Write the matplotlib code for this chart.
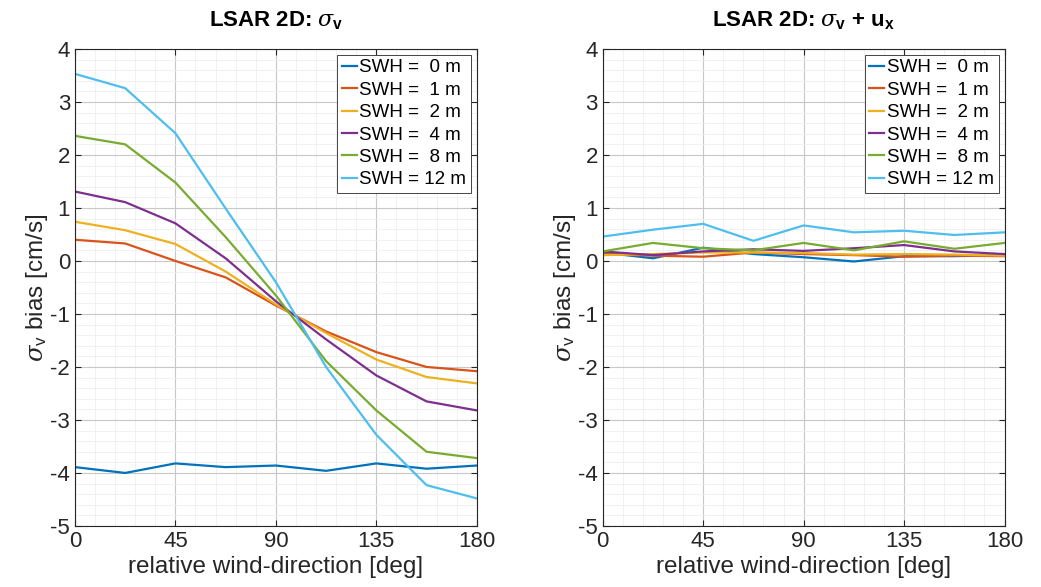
import matplotlib
matplotlib.use("Agg")
import matplotlib.pyplot as plt
from matplotlib.ticker import MultipleLocator

plt.rcParams['font.family'] = ['Liberation Sans', 'DejaVu Sans']
plt.rcParams['mathtext.fontset'] = 'custom'
plt.rcParams['mathtext.rm'] = 'Liberation Sans'
plt.rcParams['mathtext.bf'] = 'Liberation Sans:bold'
plt.rcParams['mathtext.it'] = 'DejaVu Serif:italic'
plt.rcParams['axes.unicode_minus'] = False

# relative wind direction [deg]
wind_dir = [0, 22.5, 45, 67.5, 90, 112.5, 135, 157.5, 180]
swh_labels = ["SWH =  0 m", "SWH =  1 m", "SWH =  2 m",
              "SWH =  4 m", "SWH =  8 m", "SWH = 12 m"]

# left panel: sigma_v bias
bias_v_0 = [-3.89, -4.00, -3.82, -3.89, -3.86, -3.96, -3.82, -3.92, -3.86]
bias_v_1 = [0.40, 0.33, 0.00, -0.31, -0.84, -1.33, -1.72, -2.00, -2.08]
bias_v_2 = [0.74, 0.58, 0.32, -0.20, -0.82, -1.36, -1.86, -2.19, -2.31]
bias_v_4 = [1.31, 1.11, 0.71, 0.05, -0.76, -1.48, -2.16, -2.65, -2.82]
bias_v_8 = [2.36, 2.20, 1.48, 0.45, -0.65, -1.89, -2.82, -3.60, -3.72]
bias_v_12 = [3.53, 3.26, 2.41, 0.99, -0.40, -2.00, -3.28, -4.23, -4.48]

# right panel: sigma_v + u_x bias
bias_vu_0 = [0.16, 0.05, 0.25, 0.13, 0.07, -0.01, 0.09, 0.09, 0.11]
bias_vu_1 = [0.13, 0.10, 0.08, 0.16, 0.13, 0.11, 0.08, 0.10, 0.09]
bias_vu_2 = [0.11, 0.13, 0.16, 0.16, 0.15, 0.12, 0.13, 0.12, 0.10]
bias_vu_4 = [0.18, 0.11, 0.18, 0.22, 0.19, 0.24, 0.30, 0.18, 0.13]
bias_vu_8 = [0.18, 0.34, 0.24, 0.20, 0.34, 0.20, 0.37, 0.23, 0.34]
bias_vu_12 = [0.46, 0.59, 0.70, 0.38, 0.67, 0.54, 0.57, 0.49, 0.54]

colors = ['#0072BD', '#D95319', '#EDB120', '#7E2F8E', '#77AC30', '#4DBEEE']

fig = plt.figure(figsize=(10.41, 5.87), dpi=100)
ax1 = fig.add_axes([0.072, 0.104, 0.386, 0.8126])
ax2 = fig.add_axes([0.579, 0.104, 0.386, 0.8126])

panels = [
    (ax1, [bias_v_0, bias_v_1, bias_v_2, bias_v_4, bias_v_8, bias_v_12],
     r'LSAR 2D: $\sigma_\mathbf{v}$'),
    (ax2, [bias_vu_0, bias_vu_1, bias_vu_2, bias_vu_4, bias_vu_8, bias_vu_12],
     r'LSAR 2D: $\sigma_\mathbf{v}$ + $\mathbf{u_x}$'),
]

for ax, series, title in panels:
    for vals, c, lab in zip(series, colors, swh_labels):
        ax.plot(wind_dir, vals, color=c, linewidth=1.6, label=lab)
    ax.set_xlim(0, 180)
    ax.set_ylim(-5, 4)
    ax.xaxis.set_major_locator(MultipleLocator(45))
    ax.xaxis.set_minor_locator(MultipleLocator(9))
    ax.yaxis.set_major_locator(MultipleLocator(1))
    ax.yaxis.set_minor_locator(MultipleLocator(0.2))
    ax.grid(which='major', color='#c8c8c8', linewidth=0.8)
    ax.grid(which='minor', color='#efefef', linewidth=0.6)
    ax.set_axisbelow(True)
    ax.tick_params(which='both', direction='in', labelsize=16, colors='#262626',
                   top=True, right=True)
    ax.tick_params(which='major', length=4)
    ax.tick_params(which='minor', length=0)
    for sp in ax.spines.values():
        sp.set_color('#262626')
        sp.set_linewidth(0.8)
    ax.set_xlabel('relative wind-direction [deg]', fontsize=17.5, color='#262626', labelpad=3)
    ax.set_ylabel(r'$\sigma_\mathrm{v}$ bias [cm/s]', fontsize=17.5, color='#262626', labelpad=0)
    ax.set_title(title, fontsize=16, fontweight='bold', pad=16)
    leg = ax.legend(loc='upper right', fontsize=13.5, handlelength=0.8, handletextpad=0.15,
                    borderaxespad=0.3, borderpad=0.25, labelspacing=0.28, fancybox=False,
                    framealpha=1)
    leg.get_frame().set_edgecolor('#262626')
    leg.get_frame().set_linewidth(0.6)

fig.savefig('out.png', dpi=100)
